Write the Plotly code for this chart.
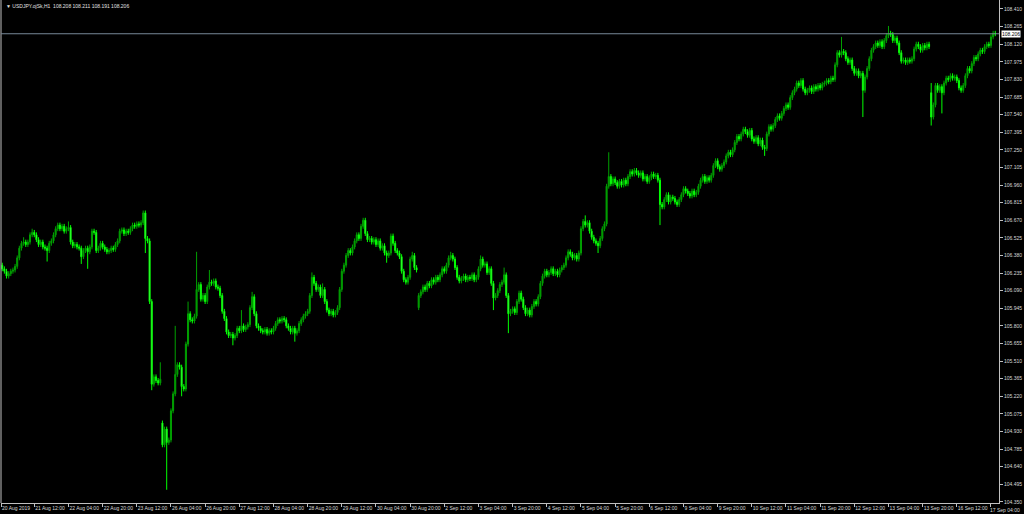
import datetime as dt
import plotly.graph_objects as go

# ---------------- data (USDJPY H1) ----------------
start_time = dt.datetime(2019, 8, 20, 20, 0)

closes = [
    106.30, 106.27, 106.25, 106.21, 106.23, 106.25, 106.26, 106.29, 106.36, 106.44,
    106.48, 106.49, 106.47, 106.49, 106.55, 106.57, 106.55, 106.51, 106.47, 106.49,
    106.45, 106.44, 106.42, 106.48, 106.50, 106.55, 106.60, 106.63, 106.60, 106.62,
    106.58, 106.60, 106.61, 106.49, 106.46, 106.47, 106.45, 106.44, 106.37, 106.42,
    106.44, 106.41, 106.45, 106.58, 106.57, 106.42, 106.44, 106.48, 106.45, 106.43,
    106.41, 106.42, 106.44, 106.43, 106.47, 106.50, 106.58, 106.59, 106.56, 106.58,
    106.57, 106.60, 106.63, 106.62, 106.64, 106.63, 106.65, 106.73, 106.52, 106.50,
    106.00, 105.32, 105.38, 105.35, 105.33, 105.36, 104.82, 104.95, 104.84, 104.86,
    105.10, 105.24, 105.40, 105.48, 105.46, 105.30, 105.28, 105.65, 105.90, 105.85,
    105.84, 105.88, 106.10, 106.14, 106.02, 106.05, 106.00, 106.12, 106.16, 106.15,
    106.17, 106.12, 106.11, 106.05, 105.92, 105.86, 105.75, 105.72, 105.73, 105.70,
    105.72, 105.78, 105.76, 105.80, 105.77, 105.79, 105.81, 105.95, 106.04, 105.90,
    105.80, 105.78, 105.76, 105.75, 105.77, 105.74, 105.76, 105.75, 105.78, 105.82,
    105.85, 105.84, 105.86, 105.85, 105.80, 105.78, 105.75, 105.78, 105.74, 105.76,
    105.82, 105.85, 105.88, 105.90, 105.92, 106.05, 106.20, 106.15, 106.10, 106.12,
    106.05, 106.10, 106.00, 105.93, 105.90, 105.92, 105.89, 105.91, 105.95, 106.10,
    106.25, 106.30, 106.38, 106.42, 106.40, 106.45, 106.50, 106.55, 106.52, 106.62,
    106.67, 106.56, 106.51, 106.52, 106.49, 106.51, 106.47, 106.50, 106.44, 106.46,
    106.40, 106.38, 106.40, 106.54, 106.48, 106.42, 106.40, 106.37, 106.25, 106.18,
    106.16, 106.20, 106.35, 106.38, 106.28, 106.26, 106.05, 106.08, 106.12, 106.10,
    106.15, 106.13, 106.18, 106.16, 106.20, 106.18, 106.22, 106.27, 106.25, 106.30,
    106.36, 106.38, 106.35, 106.28, 106.20, 106.17, 106.19, 106.21, 106.18, 106.20,
    106.19, 106.22, 106.18, 106.20, 106.27, 106.35, 106.30, 106.31, 106.24, 106.27,
    106.15, 106.03, 106.05, 106.09, 106.14, 106.16, 106.22, 106.05, 105.90, 105.92,
    105.94, 105.91, 106.00, 106.07, 106.02, 105.95, 105.90, 105.93, 105.89, 105.96,
    106.00, 105.98, 106.04, 106.15, 106.21, 106.25, 106.22, 106.24, 106.27, 106.23,
    106.25, 106.22, 106.26, 106.28, 106.30, 106.36, 106.41, 106.39, 106.36, 106.38,
    106.35, 106.40, 106.60, 106.66, 106.63, 106.65, 106.58, 106.53, 106.50, 106.48,
    106.46, 106.52, 106.60, 106.64, 106.95, 107.03, 106.97, 107.01, 106.98, 106.95,
    106.99, 106.96, 107.00, 106.97, 107.03, 107.07, 107.05, 107.08, 107.06, 107.04,
    107.06, 107.01, 107.03, 106.99, 107.02, 107.05, 107.03, 107.04, 107.00, 106.80,
    106.78, 106.84, 106.88, 106.82, 106.86, 106.85, 106.82, 106.80, 106.84, 106.88,
    106.93, 106.91, 106.89, 106.87, 106.91, 106.88, 106.90, 106.95, 107.00, 107.03,
    106.99, 107.02, 107.00, 107.04, 107.12, 107.16, 107.11, 107.09, 107.12, 107.15,
    107.20, 107.23, 107.21, 107.25, 107.31, 107.36, 107.34, 107.38, 107.42, 107.40,
    107.37, 107.41, 107.34, 107.32, 107.35, 107.30, 107.33, 107.27, 107.26, 107.38,
    107.44, 107.42, 107.45, 107.50, 107.53, 107.51, 107.55, 107.59, 107.62, 107.60,
    107.68, 107.72, 107.75, 107.80, 107.78, 107.82, 107.75, 107.72, 107.74, 107.76,
    107.73, 107.77, 107.75, 107.78, 107.76, 107.79, 107.80, 107.82, 107.81, 107.84,
    107.83, 107.95, 108.05, 108.03, 108.06, 108.05, 108.00, 107.97, 107.99, 107.92,
    107.88, 107.90, 107.86, 107.88, 107.74, 107.85, 107.92, 108.00, 108.07, 108.10,
    108.13, 108.11, 108.14, 108.10, 108.15, 108.19, 108.21, 108.20, 108.15, 108.17,
    108.13, 108.05, 107.98, 107.99, 107.97, 107.99, 107.98, 108.00, 108.08, 108.12,
    108.10, 108.07, 108.11, 108.09, 108.12, 108.10, 107.52, 107.62, 107.78, 107.74,
    107.77, 107.72, 107.80, 107.84, 107.83, 107.86, 107.84, 107.85, 107.82, 107.76,
    107.74, 107.78, 107.86, 107.92, 107.90, 107.96, 108.01, 108.00, 108.04, 108.07,
    108.06, 108.10, 108.12, 108.11, 108.18, 108.21, 108.206,
]

first_open = 106.28
gap_opens = {76: 105.00, 196: 105.95, 436: 107.72}   # Monday opening gaps

high_marks = {0: 106.37, 11: 106.53, 15: 106.60, 32: 106.66, 67: 106.74, 75: 105.50,
              82: 105.80, 88: 106.00, 92: 106.41, 98: 106.26, 113: 105.93, 118: 106.08,
              146: 106.24, 151: 106.15, 170: 106.69, 183: 106.56, 193: 106.41, 211: 106.41,
              225: 106.38, 236: 106.28, 274: 106.71, 285: 107.23, 394: 108.18, 416: 108.27,
              436: 107.80}
low_marks = {3: 106.20, 22: 106.33, 38: 106.31, 41: 106.27, 68: 106.40, 71: 105.27,
             78: 104.45, 85: 105.22, 109: 105.64, 138: 105.67, 181: 106.32, 231: 105.93,
             238: 105.74, 280: 106.40, 309: 106.63, 358: 107.20, 404: 107.52, 436: 107.45,
             441: 107.55}
base_wick = 0.02

symbol_title = "USDJPY.ojSk,H1  108.208 108.211 108.191 108.206"
last_price = 108.206
y_ticks = [round(104.350 + 0.145 * k, 3) for k in range(29)]

# ---------------- build OHLC ----------------
n = len(closes)
times = []
t = start_time
while len(times) < n:
    if t.weekday() < 5:
        times.append(t)
    t += dt.timedelta(hours=1)

opens, highs, lows = [], [], []
for i, c in enumerate(closes):
    o = first_open if i == 0 else gap_opens.get(i, closes[i - 1])
    opens.append(o)
    highs.append(max(high_marks.get(i, 0), max(o, c) + base_wick))
    lows.append(min(low_marks.get(i, 1e9), min(o, c) - base_wick))

idx = list(range(n))


def fmt(tm):
    return f"{tm.day} {tm:%b} {tm:%H:%M}"


tick_idx = [0.41] + list(range(16, n, 16))
tick_txt = ["20 Aug 2019"] + [fmt(times[i]) for i in range(16, n, 16)]
last_txt = tick_txt[-1]
tick_txt[-1] = ""   # drawn as annotation, kept inside the page

AX = "#c0c0c0"
FS = 5.0
FONT = dict(family="Liberation Sans, Arial, sans-serif", size=FS, color="#d8d8d8")

fig = go.Figure(go.Candlestick(
    x=idx, open=opens, high=highs, low=lows, close=closes,
    increasing=dict(line=dict(color="#00A000", width=1), fillcolor="#00A000"),
    decreasing=dict(line=dict(color="#00FF00", width=1), fillcolor="#9CFF9C"),
    whiskerwidth=0, hoverinfo="skip",
))

fig.update_layout(
    width=1024, height=514,
    margin=dict(l=1, r=25, t=0, b=11),
    paper_bgcolor="black", plot_bgcolor="black",
    showlegend=False, font=FONT,
    xaxis=dict(range=[0.41, 467.75], tickvals=tick_idx, ticktext=tick_txt, tickangle=0,
               ticks="outside", ticklen=3, tickcolor=AX, showline=True, linecolor=AX,
               linewidth=1, ticklabelposition="outside right", showgrid=False,
               zeroline=False, rangeslider=dict(visible=False), tickfont=FONT),
    yaxis=dict(range=[104.341, 108.484], side="right", tickvals=y_ticks,
               ticktext=[f"{v:.3f}" for v in y_ticks], ticks="outside", ticklen=3,
               tickcolor=AX, showline=True, linecolor=AX, linewidth=1, showgrid=False,
               zeroline=False, tickfont=FONT),
)

fig.add_shape(type="line", xref="paper", yref="paper", x0=0, x1=0, y0=0, y1=1,
              line=dict(color=AX, width=1))
fig.add_shape(type="line", xref="paper", yref="y", x0=0, x1=1, y0=last_price, y1=last_price,
              line=dict(color="#778899", width=1))
fig.add_annotation(xref="paper", yref="paper", x=1, y=0, xanchor="right", yanchor="top",
                   xshift=23, yshift=-2, text=last_txt, showarrow=False, font=FONT)
fig.add_annotation(xref="paper", yref="y", x=1, y=last_price, xanchor="left", xshift=2,
                   text=f"{last_price:.3f}", showarrow=False, bgcolor="white",
                   font=dict(family=FONT["family"], size=FS, color="black"), borderpad=0)
fig.add_annotation(xref="paper", yref="paper", x=0, y=1, xanchor="left", yanchor="top",
                   xshift=3, yshift=-1, text="\u25bc " + symbol_title, showarrow=False,
                   font=dict(family=FONT["family"], size=FS, color="#e0e0e0"))

fig.write_html("out.html", config={"displayModeBar": False},
               post_script="document.body.style.margin='0';document.body.style.overflow='hidden';")
